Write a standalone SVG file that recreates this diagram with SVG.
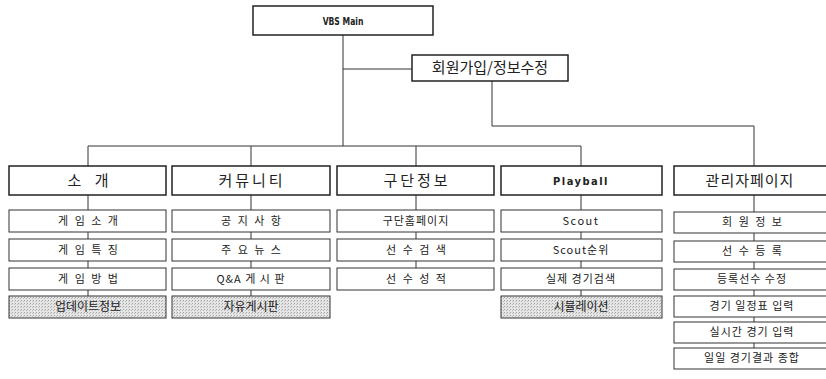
<svg xmlns="http://www.w3.org/2000/svg" width="826" height="379" viewBox="0 0 826 379">
<defs>
<pattern id="dots" width="3" height="3" patternUnits="userSpaceOnUse">
<rect width="3" height="3" fill="#e6e6e6"/>
<rect x="0" y="0" width="1" height="1" fill="#a0a0a0"/>
<rect x="2" y="1" width="1" height="1" fill="#bababa"/>
</pattern>
</defs>
<style>
rect.top{fill:#fff;stroke:#222;stroke-width:1.5}
rect.sub{fill:#fff;stroke:#333;stroke-width:1}
rect.grey{fill:url(#dots);stroke:#333;stroke-width:1}
.t{font-family:"Noto Sans CJK KR","DejaVu Sans",sans-serif;fill:#222;text-anchor:middle;white-space:pre}
.big{font-size:15px;letter-spacing:3px}
.small{font-size:11px;letter-spacing:2px}
.lat{font-family:"DejaVu Sans Condensed","DejaVu Sans",sans-serif;font-weight:bold;fill:#222;text-anchor:middle}
#connectors path{fill:none;stroke:#333;stroke-width:1}
</style>
<rect width="826" height="379" fill="#fff"/>
<g id="connectors">
<path d="M343 35V146M343 69H412M492 81V126H754V166M88 146H581M88 146V166M251 146V166M416 146V166M581 146V166"/>
<path d="M88 195V210M88 232V239M88 261V268M88 290V296"/>
<path d="M251 195V210M251 232V239M251 261V268M251 290V296"/>
<path d="M416 195V210M416 232V239M416 261V268"/>
<path d="M581 195V210M581 232V239M581 261V268M581 290V296"/>
<path d="M754 195V212M754 233V241M754 262V269M754 290V296M754 317V322M754 343V348"/>
</g>
<g id="vbs-main"><rect class="top" x="253" y="6" width="180" height="29"/><text class="lat" x="343" y="25" font-size="10" transform="translate(343 0) scale(0.85 1) translate(-343 0)">VBS Main</text></g>
<g id="member"><rect class="top" x="412" y="55" width="156" height="26"/><text class="t" x="490" y="73" font-size="15">회원가입/정보수정</text></g>

<g id="intro"><rect class="top" x="9" y="166" width="157" height="29"/><text class="t" x="88" y="186" font-size="15">소    개</text></g>
<g id="intro-1"><rect class="sub" x="9" y="210" width="157" height="22"/><text class="t small" x="89" y="225">게 임 소 개</text></g>
<g id="intro-2"><rect class="sub" x="9" y="239" width="157" height="22"/><text class="t small" x="89" y="254">게 임 특 징</text></g>
<g id="intro-3"><rect class="sub" x="9" y="268" width="157" height="22"/><text class="t small" x="89" y="283">게 임 방 법</text></g>
<g id="intro-4"><rect class="grey" x="9" y="296" width="157" height="22"/><text class="t" x="88" y="311" font-size="12">업데이트정보</text></g>

<g id="community"><rect class="top" x="172" y="166" width="158" height="29"/><text class="t big" x="252" y="186">커뮤니티</text></g>
<g id="community-1"><rect class="sub" x="172" y="210" width="158" height="22"/><text class="t small" x="252" y="225">공 지 사 항</text></g>
<g id="community-2"><rect class="sub" x="172" y="239" width="158" height="22"/><text class="t small" x="252" y="254">주 요 뉴 스</text></g>
<g id="community-3"><rect class="sub" x="172" y="268" width="158" height="22"/><text class="t" x="251" y="283" font-size="11" letter-spacing="1">Q&amp;A 게 시 판</text></g>
<g id="community-4"><rect class="grey" x="172" y="296" width="158" height="22"/><text class="t" x="251" y="311" font-size="12">자유게시판</text></g>

<g id="club"><rect class="top" x="337" y="166" width="157" height="29"/><text class="t big" x="417" y="186">구단정보</text></g>
<g id="club-1"><rect class="sub" x="337" y="210" width="157" height="22"/><text class="t" x="416" y="225" font-size="11" letter-spacing="1">구단홈페이지</text></g>
<g id="club-2"><rect class="sub" x="337" y="239" width="157" height="22"/><text class="t small" x="417" y="254">선 수 검 색</text></g>
<g id="club-3"><rect class="sub" x="337" y="268" width="157" height="22"/><text class="t small" x="417" y="283">선 수 성 적</text></g>

<g id="playball"><rect class="top" x="501" y="166" width="161" height="29"/><text class="lat" x="581" y="185" font-size="11" letter-spacing="1.5">Playball</text></g>
<g id="playball-1"><rect class="sub" x="501" y="210" width="161" height="22"/><text class="t" x="581" y="225" font-size="11" letter-spacing="1.5">Scout</text></g>
<g id="playball-2"><rect class="sub" x="501" y="239" width="161" height="22"/><text class="t" x="581" y="254" font-size="11" letter-spacing="1">Scout순위</text></g>
<g id="playball-3"><rect class="sub" x="501" y="268" width="161" height="22"/><text class="t" x="581" y="283" font-size="11" letter-spacing="1">실제 경기검색</text></g>
<g id="playball-4"><rect class="grey" x="501" y="296" width="161" height="22"/><text class="t" x="581" y="311" font-size="12">시뮬레이션</text></g>

<g id="admin"><rect class="top" x="674" y="166" width="160" height="29"/><text class="t" x="750" y="186" font-size="15" letter-spacing="1">관리자페이지</text></g>
<g id="admin-1"><rect class="sub" x="674" y="212" width="160" height="21"/><text class="t small" x="753" y="226">회 원 정 보</text></g>
<g id="admin-2"><rect class="sub" x="674" y="241" width="160" height="21"/><text class="t small" x="753" y="255">선 수 등 록</text></g>
<g id="admin-3"><rect class="sub" x="674" y="269" width="160" height="21"/><text class="t" x="752" y="283" font-size="11" letter-spacing="1">등록선수 수정</text></g>
<g id="admin-4"><rect class="sub" x="674" y="296" width="160" height="21"/><text class="t" x="752" y="310" font-size="11" letter-spacing="1">경기 일정표 입력</text></g>
<g id="admin-5"><rect class="sub" x="674" y="322" width="160" height="21"/><text class="t" x="752" y="336" font-size="11" letter-spacing="1">실시간 경기 입력</text></g>
<g id="admin-6"><rect class="sub" x="674" y="348" width="160" height="21"/><text class="t" x="752" y="362" font-size="11" letter-spacing="1">일일 경기결과 종합</text></g>
</svg>
